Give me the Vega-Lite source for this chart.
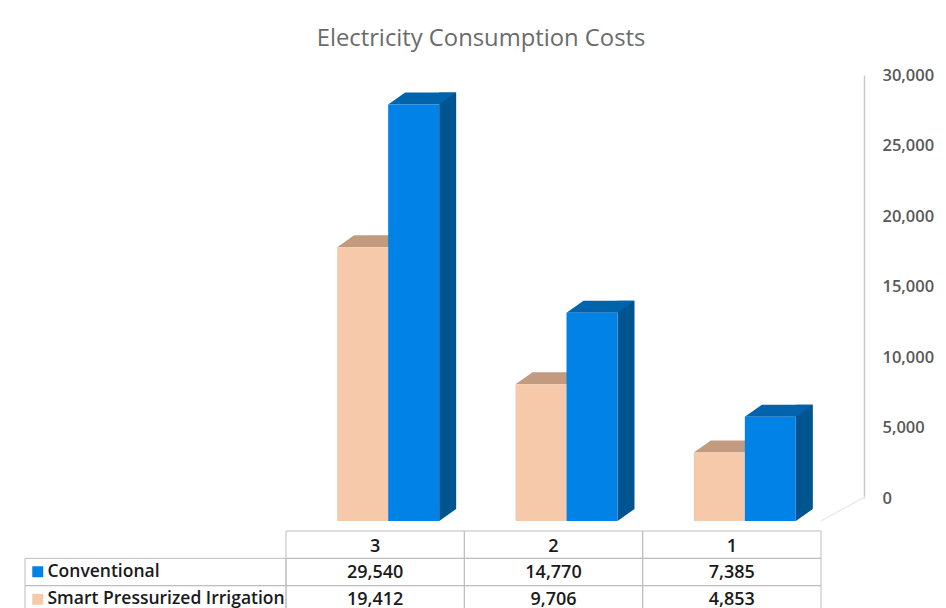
{
"$schema":"https://vega.github.io/schema/vega-lite/v6.json",
"width":946,"height":608,"padding":0,"autosize":{"type":"none"},"background":"white",
"config":{"view":{"stroke":null},"font":"Open Sans"},
"title":{"text":"Electricity Consumption Costs","font":"Open Sans","fontSize":23.8,"fontWeight":"normal","color":"#6b6b6b","anchor":"middle","offset":-51,"dx":8},
"datasets":{"d":[
{"category":"3","series":"Conventional","value":29540},
{"category":"3","series":"Smart Pressurized Irrigation","value":19412},
{"category":"2","series":"Conventional","value":14770},
{"category":"2","series":"Smart Pressurized Irrigation","value":9706},
{"category":"1","series":"Conventional","value":7385},
{"category":"1","series":"Smart Pressurized Irrigation","value":4853}]},
"data":{"name":"d"},
"resolve":{"scale":{"x":"independent","y":"independent","color":"independent"},"axis":{"x":"independent","y":"independent"}},
"layer":[
{"mark":{"type":"rule","color":"#c9c9c9","strokeWidth":1.5,"xOffset":-82},
 "encoding":{"y":{"datum":0,"type":"quantitative","scale":{"domain":[0,30000],"range":[498,75]},
   "axis":{"orient":"right","offset":-82,"values":[0,5000,10000,15000,20000,25000,30000],"format":",d","grid":false,"ticks":false,"domain":true,"domainColor":"#c9c9c9","domainWidth":1.5,"labelFont":"Open Sans","labelFontWeight":600,"labelFontSize":16.5,"labelColor":"#595959","labelPadding":18,"title":null}},
  "y2":{"datum":0},"opacity":{"value":0}}},
{"encoding":{
  "x":{"field":"category","type":"nominal","sort":["3","2","1"],"axis":null,"scale":{"type":"band","domain":["3","2","1"],"range":[286,821],"paddingInner":0,"paddingOuter":0}},
  "y":{"field":"value","type":"quantitative","axis":null,"stack":null,"scale":{"domain":[0,30000],"range":[521,98]}}
 },
 "layer":[
 {"transform":[{"filter":"datum.category==='1' && datum.series==='Conventional'"}],
  "mark":{"type":"point","filled":false,"opacity":1,"size":4,"shape":"M0 0 L44 -24","stroke":"#ececec","strokeWidth":1.5,"xOffset":89},
  "encoding":{"y":{"datum":0,"type":"quantitative"}}},
 {"transform":[{"filter":"datum.series==='Smart Pressurized Irrigation'"}],
  "mark":{"type":"point","filled":true,"opacity":1,"size":4,"shape":"M-25.5 0 L25.5 0 L42.5 -12 L-8.5 -12 Z","color":"#c29a80","strokeWidth":0,"xOffset":-12.5}},
 {"transform":[{"filter":"datum.series==='Conventional'"}],
  "mark":{"type":"bar","width":17,"xOffset":72.5,"yOffset":-12,"y2Offset":-12,"color":"#00548f"},
  "encoding":{"y2":{"datum":0}}},
 {"transform":[{"filter":"datum.series==='Conventional'"}],
  "mark":{"type":"point","filled":true,"opacity":1,"size":4,"shape":"M0 0 L0 -12 L17 -12 Z","color":"#00548f","strokeWidth":0,"xOffset":64},
  "encoding":{"y":{"datum":0,"type":"quantitative"}}},
 {"transform":[{"filter":"datum.series==='Conventional'"}],
  "mark":{"type":"point","filled":true,"opacity":1,"size":4,"shape":"M-25.5 0 L25.5 0 L42.5 -12 L-8.5 -12 Z","color":"#0063ac","strokeWidth":0,"xOffset":38.5}},
 {"transform":[{"filter":"datum.series==='Smart Pressurized Irrigation'"}],
  "mark":{"type":"bar","width":51,"xOffset":-12.5},
  "encoding":{"color":{"field":"series","type":"nominal","scale":{"domain":["Conventional","Smart Pressurized Irrigation"],"range":["#0082e6","#f6c9ab"]},
    "legend":{"orient":"none","legendX":29,"legendY":563,"direction":"vertical","title":null,"symbolType":"square","symbolSize":120,"symbolOpacity":1,"symbolStrokeWidth":0,"labelFont":"Open Sans","labelFontSize":17.5,"labelFontWeight":600,"labelColor":"#1a1a1a","labelOffset":1,"rowPadding":8.5,"labelLimit":300,"padding":0}}}},
 {"transform":[{"filter":"datum.series==='Conventional'"}],
  "mark":{"type":"bar","width":51,"xOffset":38.5},
  "encoding":{"color":{"field":"series","type":"nominal","scale":{"domain":["Conventional","Smart Pressurized Irrigation"],"range":["#0082e6","#f6c9ab"]},"legend":null}}}
 ]},
{"encoding":{
  "x":{"field":"category","type":"nominal","axis":null,"scale":{"type":"band","domain":["3","2","1"],"range":[286,821],"paddingInner":0,"paddingOuter":0}}
 },
 "layer":[
 {"mark":{"type":"rect","fill":"transparent","stroke":"#bdbdbd","strokeWidth":1},
  "encoding":{"y":{"field":"series","type":"nominal","axis":null,"scale":{"type":"band","domain":["header","Conventional","Smart Pressurized Irrigation"],"range":[531,613],"paddingInner":0,"paddingOuter":0}}}},
 {"transform":[{"filter":"datum.series==='Conventional'"}],"mark":{"type":"rect","fill":"transparent","stroke":"#bdbdbd","strokeWidth":1},
  "encoding":{"y":{"datum":"header","type":"nominal"}}},
 {"mark":{"type":"text","font":"Open Sans","fontSize":18,"fontWeight":600,"color":"#1a1a1a","dy":1},
  "encoding":{"y":{"field":"series","type":"nominal"},"text":{"field":"value","type":"quantitative","format":",d"}}},
 {"transform":[{"filter":"datum.series==='Conventional'"}],"mark":{"type":"text","font":"Open Sans","fontSize":18,"fontWeight":600,"color":"#1a1a1a","dy":2},
  "encoding":{"y":{"datum":"header","type":"nominal"},"text":{"field":"category","type":"nominal"}}}
 ]},
{"transform":[{"filter":"datum.category==='1'"}],
 "mark":{"type":"rect","fill":"transparent","stroke":"#bdbdbd","strokeWidth":1},
 "encoding":{
  "x":{"datum":0,"type":"quantitative","axis":null,"scale":{"domain":[0,1],"range":[25,286]}},
  "x2":{"datum":1},
  "y":{"field":"series","type":"nominal","axis":null,"scale":{"type":"band","domain":["header","Conventional","Smart Pressurized Irrigation"],"range":[531,613],"paddingInner":0,"paddingOuter":0}}
 }}
]
}
